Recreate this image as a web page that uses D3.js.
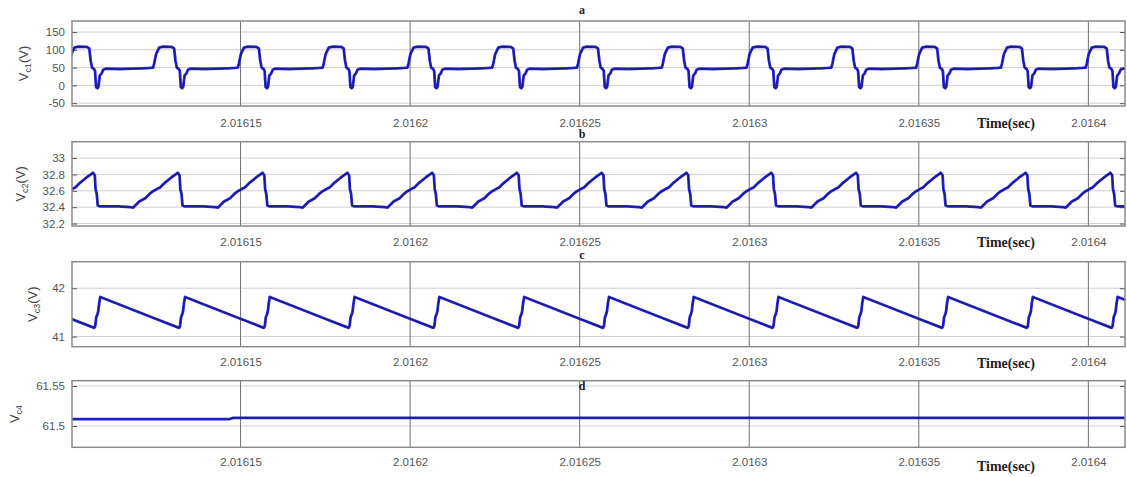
<!DOCTYPE html>
<html><head><meta charset="utf-8">
<script src="https://cdn.jsdelivr.net/npm/d3@7"></script>
<style>body{margin:0;background:#fff} svg{display:block}</style>
</head><body>
<svg id="chart" width="1127" height="477"></svg>
<script>
// ---------- data ----------
const timeDomain = [2.0161003, 2.0164108];
const xTickValues = [2.01615, 2.0162, 2.01625, 2.0163, 2.01635, 2.0164];
const xTickLabels = ["2.01615", "2.0162", "2.01625", "2.0163", "2.01635", "2.0164"];

// rising-edge time of each switching cycle (s); the last one lies just past the right edge
const cycleStarts = [2.0160992, 2.0161242, 2.0161492, 2.0161742, 2.0161992, 2.0162242, 2.0162492,
                     2.0162742, 2.0162992, 2.0163242, 2.0163492, 2.0163742, 2.0163992, 2.0164242];

// one cycle of each waveform: offset from cycle start (µs) and value
const vc1Offsets = [0, 0.3, 0.9, 1.8, 3.0, 5.5, 6.2, 6.6, 7.0, 7.6, 7.9, 8.2, 8.6, 8.9, 9.3, 9.8, 10.3, 11.0, 15.0, 19.0, 22.0, 24.0];
const vc1Values  = [50, 60, 88, 106, 109, 108, 104, 70, 50, 46, 40, -5, -8, -4, 28, 33, 44, 47, 46, 47, 48, 49];

const vc2Offsets = [0, 0.65, 1.47, 2.06, 3.54, 5.31, 7.28, 7.81, 8.05, 8.40, 8.70, 9.43, 14.74, 18.28, 19.16, 20.93, 22.70, 24.17];
const vc2Values  = [32.595, 32.61, 32.63, 32.64, 32.70, 32.76, 32.82, 32.79, 32.62, 32.56, 32.42, 32.41, 32.41, 32.40, 32.395, 32.47, 32.51, 32.57];

const vc3Offsets = [0, 7.67, 7.96, 8.25, 8.55, 8.84, 9.14, 9.43];
const vc3Values  = [41.39, 41.18, 41.22, 41.40, 41.45, 41.52, 41.70, 41.82];

const vc4Times  = [2.0161003, 2.0161466, 2.0161478, 2.0164108];
const vc4Values = [61.5085, 61.5085, 61.5102, 61.5102];

const yTicksA = [-50, 0, 50, 100, 150];
const yTicksB = [32.2, 32.4, 32.6, 32.8, 33];
const yTicksC = [41, 42];
const yTicksD = [61.5, 61.55];
const yTickLabelsB = ["32.2", "32.4", "32.6", "32.8", "33"];
const yTickLabelsD = ["61.5", "61.55"];
const panelTitles = ["a", "b", "c", "d"];

// ---------- build series ----------
function periodic(offsets, values) {
  const pts = [];
  cycleStarts.forEach(t0 => offsets.forEach((o, i) => pts.push([t0 + o * 1e-6, values[i]])));
  return pts;
}
const seriesA = periodic(vc1Offsets, vc1Values);
const seriesB = periodic(vc2Offsets, vc2Values);
const seriesC = periodic(vc3Offsets, vc3Values);
const seriesD = vc4Times.map((t, i) => [t, vc4Values[i]]);

// ---------- layout ----------
const svg = d3.select("#chart");
const left = 72, right = 1125;
const x = d3.scaleLinear().domain(timeDomain).range([left, right]);

const panels = [
  {title: panelTitles[0], top: 21, bottom: 106, domain: [-58, 181], ticks: yTicksA, labels: yTicksA.map(String),
   sub: "c1", unit: "(V)", titleY: 14, tickY: 127, timeY: 128, yLabelX: 28, data: seriesA},
  {title: panelTitles[1], top: 141.7, bottom: 226, domain: [32.17, 33.2], ticks: yTicksB, labels: yTickLabelsB,
   sub: "c2", unit: "(V)", titleY: 138, tickY: 246, timeY: 247, yLabelX: 25, data: seriesB},
  {title: panelTitles[2], top: 261.7, bottom: 346.7, domain: [40.79, 42.55], ticks: yTicksC, labels: yTicksC.map(String),
   sub: "c3", unit: "(V)", titleY: 259, tickY: 366, timeY: 368, yLabelX: 37, data: seriesC},
  {title: panelTitles[3], top: 380.7, bottom: 447.3, domain: [61.4734, 61.5566], ticks: yTicksD, labels: yTickLabelsD,
   sub: "c4", unit: "", titleY: 390, tickY: 466, timeY: 471, yLabelX: 19, data: seriesD}
];

const defs = svg.append("defs");

panels.forEach((p, pi) => {
  const y = d3.scaleLinear().domain(p.domain).range([p.bottom, p.top]);
  const g = svg.append("g");

  // horizontal grid
  g.selectAll(".hg").data(p.ticks).enter().append("line")
    .attr("x1", left).attr("x2", right)
    .attr("y1", d => y(d)).attr("y2", d => y(d))
    .attr("stroke", "#cfcfcf").attr("stroke-width", 1);
  // vertical grid
  g.selectAll(".vg").data(xTickValues).enter().append("line")
    .attr("x1", d => x(d)).attr("x2", d => x(d))
    .attr("y1", p.top).attr("y2", p.bottom)
    .attr("stroke", "#707070").attr("stroke-width", 1);

  // axes (ticks inward)
  const yAxis = d3.axisLeft(y).tickValues(p.ticks).tickFormat((d, i) => p.labels[i]).tickSize(-5).tickPadding(7);
  const ya = g.append("g").attr("transform", `translate(${left},0)`).call(yAxis);
  ya.select(".domain").remove();
  ya.selectAll("line").attr("stroke", "#555");
  ya.selectAll("text").attr("fill", "#555").style("font-family", "Liberation Sans, Arial, sans-serif").style("font-size", "11.5px");

  const yAxisR = d3.axisRight(y).tickValues(p.ticks).tickFormat("").tickSize(-5);
  const yr = g.append("g").attr("transform", `translate(${right},0)`).call(yAxisR);
  yr.select(".domain").remove();
  yr.selectAll("line").attr("stroke", "#555");

  const xAxis = d3.axisBottom(x).tickValues(xTickValues).tickFormat((d, i) => xTickLabels[i]).tickSize(0);
  const xa = g.append("g").attr("transform", `translate(0,${p.bottom})`).call(xAxis);
  xa.select(".domain").remove();
  xa.selectAll("text").attr("y", p.tickY - p.bottom).attr("dy", 0)
    .attr("fill", "#555").style("font-family", "Liberation Sans, Arial, sans-serif").style("font-size", "11.5px");

  // clip + line
  const cid = "clip" + pi;
  defs.append("clipPath").attr("id", cid).append("rect")
    .attr("x", left).attr("y", p.top).attr("width", right - left).attr("height", p.bottom - p.top);
  const line = d3.line().x(d => x(d[0])).y(d => y(d[1]));
  g.append("path").datum(p.data).attr("clip-path", `url(#${cid})`)
    .attr("d", line).attr("fill", "none").attr("stroke", "#2a2ad2").attr("stroke-width", 2.8)
    .attr("stroke-linejoin", "round");
  g.append("path").datum(p.data).attr("clip-path", `url(#${cid})`)
    .attr("d", line).attr("fill", "none").attr("stroke", "#18188a").attr("stroke-width", 1.1)
    .attr("stroke-linejoin", "round");

  // box
  g.append("rect").attr("x", left).attr("y", p.top).attr("width", right - left).attr("height", p.bottom - p.top)
    .attr("fill", "none").attr("stroke", "#8a8a8a").attr("stroke-width", 1.5);

  // title
  g.append("text").attr("x", 582).attr("y", p.titleY).attr("text-anchor", "middle")
    .style("font-family", "Liberation Serif, serif").style("font-weight", "bold").style("font-size", "12px")
    .attr("fill", "#222").text(p.title);

  // time label
  g.append("text").attr("x", 1006).attr("y", p.timeY).attr("text-anchor", "middle")
    .style("font-family", "Liberation Serif, serif").style("font-weight", "bold").style("font-size", "14px")
    .attr("fill", "#222").text("Time(sec)");

  // y label
  const cy = (p.top + p.bottom) / 2;
  const yl = g.append("text").attr("transform", `translate(${p.yLabelX},${cy}) rotate(-90)`)
    .attr("text-anchor", "middle")
    .style("font-family", "Liberation Sans, Arial, sans-serif").style("font-size", "13px").attr("fill", "#444");
  yl.append("tspan").text("V");
  yl.append("tspan").attr("dy", 3).style("font-size", "9px").text(p.sub);
  if (p.unit) yl.append("tspan").attr("dy", -3).text(p.unit);
});
</script>
</body></html>
